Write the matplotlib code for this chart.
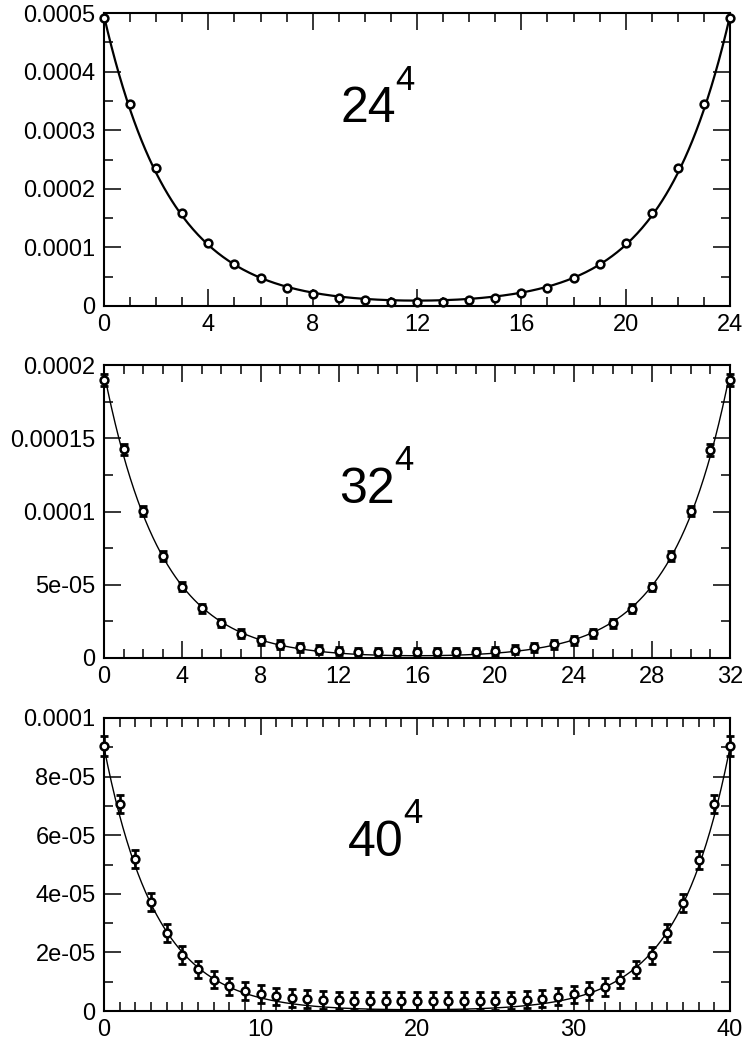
import numpy as np
import matplotlib
matplotlib.use("Agg")
import matplotlib.pyplot as plt
from matplotlib.ticker import MultipleLocator, FixedLocator, FixedFormatter

plt.rcParams['font.family'] = ['Liberation Sans', 'DejaVu Sans']

# ---------------- data ----------------
labels = ["24", "32", "40"]
sizes = [24, 32, 40]

corr_24 = [4.91e-4, 3.45e-4, 2.35e-4, 1.58e-4, 1.07e-4, 7.1e-5, 4.8e-5, 3.15e-5,
           2.1e-5, 1.43e-5, 9.7e-6, 6.8e-6, 6.3e-6, 6.8e-6, 9.7e-6, 1.43e-5,
           2.15e-5, 3.15e-5, 4.8e-5, 7.1e-5, 1.07e-4, 1.58e-4, 2.35e-4, 3.45e-4, 4.91e-4]
err_24 = [1.0e-6] * 25

corr_32 = [1.90e-4, 1.425e-4, 1.004e-4, 6.97e-5, 4.87e-5, 3.4e-5, 2.39e-5, 1.66e-5,
           1.2e-5, 9.1e-6, 7.2e-6, 5.7e-6, 4.8e-6, 4.1e-6, 3.8e-6, 3.8e-6,
           3.8e-6, 3.8e-6, 3.8e-6, 3.8e-6, 4.5e-6, 5.7e-6, 7.3e-6, 9.3e-6,
           1.21e-5, 1.69e-5, 2.37e-5, 3.37e-5, 4.85e-5, 6.97e-5, 1.004e-4, 1.42e-4, 1.90e-4]
err_32 = [4.0e-6, 3.8e-6, 3.5e-6, 3.2e-6, 3.0e-6, 3.0e-6, 3.0e-6, 3.0e-6,
          3.0e-6, 3.0e-6, 3.0e-6, 3.0e-6, 3.0e-6, 3.0e-6, 3.0e-6, 3.0e-6,
          3.0e-6, 3.0e-6, 3.0e-6, 3.0e-6, 3.0e-6, 3.0e-6, 3.0e-6, 3.0e-6,
          3.0e-6, 3.0e-6, 3.0e-6, 3.0e-6, 3.0e-6, 3.2e-6, 3.5e-6, 3.8e-6, 4.0e-6]

corr_40 = [9.04e-5, 7.07e-5, 5.18e-5, 3.72e-5, 2.66e-5, 1.92e-5, 1.42e-5, 1.07e-5,
           8.4e-6, 6.8e-6, 5.9e-6, 5.0e-6, 4.5e-6, 4.0e-6, 3.7e-6, 3.6e-6,
           3.4e-6, 3.4e-6, 3.4e-6, 3.4e-6, 3.4e-6, 3.4e-6, 3.4e-6, 3.4e-6,
           3.4e-6, 3.4e-6, 3.6e-6, 3.9e-6, 4.2e-6, 4.9e-6, 5.7e-6, 6.9e-6,
           8.2e-6, 1.07e-5, 1.41e-5, 1.90e-5, 2.67e-5, 3.69e-5, 5.15e-5, 7.06e-5, 9.04e-5]
err_40 = [3.4e-6] + [3.0e-6] * 39 + [3.4e-6]

# fit parameters (amplitude, mass) of A*(exp(-m t) + exp(-m (T - t)))
fit_amp = [4.95e-4, 1.95e-4, 9.0e-5]
fit_mass = [0.39, 0.345, 0.30]

# axis settings
ymax = [0.0005, 0.0002, 0.0001]
ytick_vals = [[0, 0.0001, 0.0002, 0.0003, 0.0004, 0.0005],
              [0, 0.00005, 0.0001, 0.00015, 0.0002],
              [0, 2e-05, 4e-05, 6e-05, 8e-05, 0.0001]]
ytick_text = [["0", "0.0001", "0.0002", "0.0003", "0.0004", "0.0005"],
              ["0", "5e-05", "0.0001", "0.00015", "0.0002"],
              ["0", "2e-05", "4e-05", "6e-05", "8e-05", "0.0001"]]
yminor = [0.00005, 0.000025, 0.00001]
xmajor = [4, 4, 10]

corrs = [corr_24, corr_32, corr_40]
errs = [err_24, err_32, err_40]
show_err = [False, True, True]
fit_lw = [1.6, 1.0, 1.0]

# label positions (axes fraction): main text and superscript
lab_pos = [(0.377, 0.628), (0.375, 0.53), (0.39, 0.53)]
sup_pos = [(0.465, 0.737), (0.463, 0.64), (0.478, 0.64)]

# ---------------- figure ----------------
W, H = 747, 1043
fig = plt.figure(figsize=(W / 100, H / 100), dpi=100)

ax_left = 104 / W
ax_w = 626 / W
ax_h = 293 / H
tops = [13, 365, 718]

for i in range(3):
    bottom = 1 - (tops[i] + 293) / H
    ax = fig.add_axes([ax_left, bottom, ax_w, ax_h])
    T = sizes[i]
    t = np.arange(T + 1)
    y = np.array(corrs[i])
    e = np.array(errs[i])

    tf = np.linspace(0, T, 500)
    fit = fit_amp[i] * (np.exp(-fit_mass[i] * tf) + np.exp(-fit_mass[i] * (T - tf)))
    ax.plot(tf, fit, color='black', lw=fit_lw[i], zorder=2, clip_on=False)

    if show_err[i]:
        ax.errorbar(t, y, yerr=e, fmt='none', ecolor='black', elinewidth=1.9,
                    capsize=3.2, capthick=2.0, zorder=3, clip_on=False)
    ax.plot(t, y, 'o', ms=5.6, mfc='white', mec='black', mew=1.8, zorder=4, clip_on=False)

    ax.set_xlim(0, T)
    ax.set_ylim(0, ymax[i])
    ax.xaxis.set_major_locator(MultipleLocator(xmajor[i]))
    ax.xaxis.set_minor_locator(MultipleLocator(1))
    ax.yaxis.set_major_locator(FixedLocator(ytick_vals[i]))
    ax.yaxis.set_major_formatter(FixedFormatter(ytick_text[i]))
    ax.yaxis.set_minor_locator(MultipleLocator(yminor[i]))

    ax.tick_params(which='both', direction='in', top=True, right=True,
                   labelsize=17, width=1.1, colors='black')
    ax.tick_params(which='major', length=12.5, pad=6)
    ax.tick_params(which='minor', length=6.5)
    for sp in ax.spines.values():
        sp.set_linewidth(1.5)

    ax.text(lab_pos[i][0], lab_pos[i][1], labels[i], transform=ax.transAxes,
            fontsize=36, ha='left', va='baseline')
    ax.text(sup_pos[i][0], sup_pos[i][1], "4", transform=ax.transAxes,
            fontsize=25, ha='left', va='baseline')

fig.savefig("out.png", dpi=100)
